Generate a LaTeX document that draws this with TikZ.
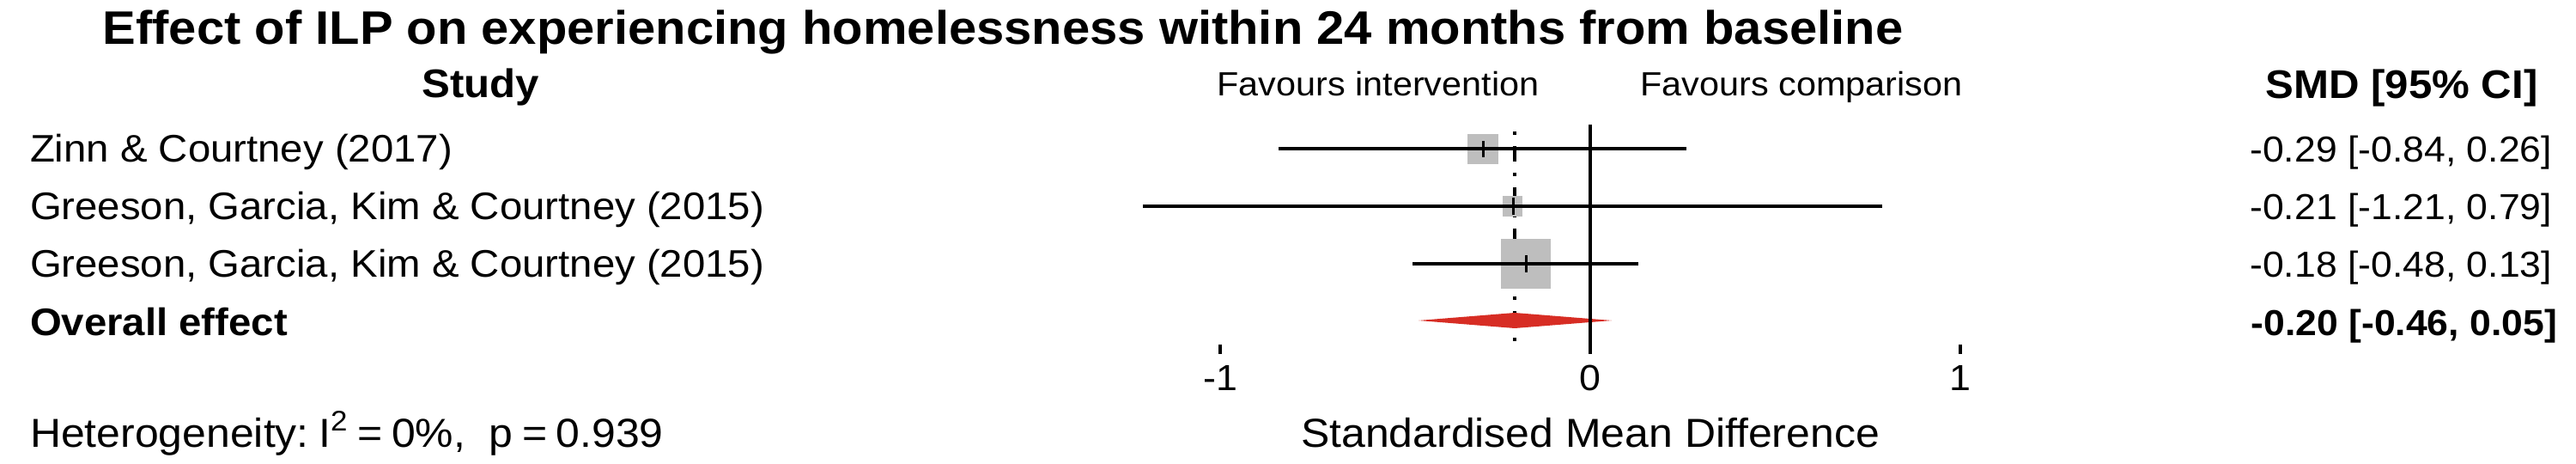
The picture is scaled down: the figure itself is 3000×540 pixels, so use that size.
\documentclass[tikz,border=0pt]{standalone}
\usepackage{fontspec}
\setmainfont{Liberation Sans}[FakeStretch=1.06]
\definecolor{sqgray}{HTML}{BEBEBE}
\definecolor{diared}{HTML}{D72D24}
\tikzset{
  txt/.style={inner sep=0pt, outer sep=0pt},
  titlefont/.style={txt, font=\fontsize{15.55}{18}\selectfont\bfseries},
  headfont/.style={txt, font=\fontsize{13.2}{16}\selectfont\bfseries},
  rowfont/.style={txt, font=\fontsize{12.7}{15}\selectfont},
  rowbold/.style={txt, font=\fontsize{12.7}{15}\selectfont\bfseries},
  numfont/.style={txt, font=\fontsize{11.95}{14}\selectfont},
  numbold/.style={txt, font=\fontsize{11.95}{14}\selectfont\bfseries},
  favfont/.style={txt, font=\fontsize{11.1}{13}\selectfont},
  ticklab/.style={txt, font=\fontsize{12}{14}\selectfont},
  xlabfont/.style={txt, font=\fontsize{13.4}{16}\selectfont},
  ciline/.style={line width=1.25pt},
  esttick/.style={line width=0.85pt},
  sqbox/.style={fill=sqgray, draw=none},
  refline/.style={line width=1.1pt},
  sumline/.style={line width=1.1pt, dash pattern=on 0.04cm off 0.13cm on 0.18cm off 0.13cm},
}
\begin{document}
\begin{tikzpicture}[x=0.01cm, y=-0.01cm]
\useasboundingbox (0,0) rectangle (3000,540);
\fill[white] (0,0) rectangle (3000,540);

% titles and headings
\node[titlefont, anchor=base] (title) at (1168,52) {Effect of ILP on experiencing homelessness within 24 months from baseline};
\node[headfont, anchor=base] (hstudy) at (560,114) {Study};
\node[favfont, anchor=base] (favint) at (1605,112) {Favours intervention};
\node[favfont, anchor=base] (favcmp) at (2098,112) {Favours comparison};
\node[headfont, anchor=base] (hsmd) at (2797,115) {SMD [95\% CI]};

% study labels
\node[rowfont, anchor=base west] (s1) at (35,189) {Zinn \& Courtney (2017)};
\node[rowfont, anchor=base west] (s2) at (35,256) {Greeson, Garcia, Kim \& Courtney (2015)};
\node[rowfont, anchor=base west] (s3) at (35,323) {Greeson, Garcia, Kim \& Courtney (2015)};
\node[rowbold, anchor=base west] (sall) at (35,390) {Overall effect};

% effect sizes
\node[numfont, anchor=base east] (e1) at (2972,189) {-0.29 [-0.84, 0.26]};
\node[numfont, anchor=base east] (e2) at (2972,256) {-0.21 [-1.21, 0.79]};
\node[numfont, anchor=base east] (e3) at (2972,323) {-0.18 [-0.48, 0.13]};
\node[numbold, anchor=base east] (eall) at (2978,390) {-0.20 [-0.46, 0.05]};

% summary (dot-dash) line
\coordinate (sumtop) at (1764,153);
\coordinate (sumbot) at (1764,402);
\draw[sumline] (sumtop) -- (sumbot);

% squares
\fill[sqbox] (1709,156) rectangle (1745,191);
\fill[sqbox] (1750,228) rectangle (1773,252);
\fill[sqbox] (1748,278) rectangle (1806,336);

% confidence intervals
\coordinate (c1l) at (1489,173); \coordinate (c1r) at (1964,173);
\coordinate (c2l) at (1331,240); \coordinate (c2r) at (2192,240);
\coordinate (c3l) at (1645,307); \coordinate (c3r) at (1908,307);
\draw[ciline] (c1l) -- (c1r);
\draw[ciline] (c2l) -- (c2r);
\draw[ciline] (c3l) -- (c3r);

% point estimates
\draw[esttick] (1727,164) -- (1727,183);
\draw[esttick] (1762,230) -- (1762,250);
\draw[esttick] (1777,297) -- (1777,317);

% overall diamond
\fill[diared] (1652,373) -- (1764,364) -- (1877,373) -- (1764,382) -- cycle;

% zero line and ticks
\coordinate (z0) at (1852,145);
\coordinate (z1) at (1852,412);
\draw[refline] (z0) -- (z1);
\draw[refline] (1421,401) -- (1421,412);
\draw[refline] (2283,401) -- (2283,412);

\node[ticklab, anchor=base] (tm1) at (1421,455) {-1};
\node[ticklab, anchor=base] (t0) at (1852,455) {0};
\node[ticklab, anchor=base] (t1) at (2283,455) {1};

\node[xlabfont, anchor=base] (xlab) at (1852,520) {Standardised Mean Difference};
\node[xlabfont, anchor=base west] (het) at (35,520) {Heterogeneity:\hspace{0.24em}I\textsuperscript{2}\hspace{0.22em}=\hspace{0.22em}0\%,\ \ p\hspace{0.22em}=\hspace{0.22em}0.939};
\end{tikzpicture}
\end{document}
